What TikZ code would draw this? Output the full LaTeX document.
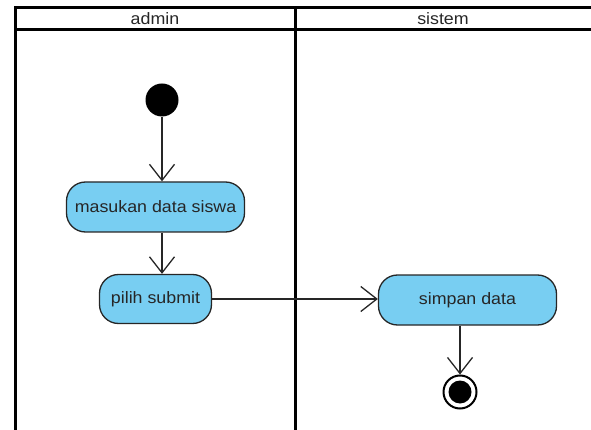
\documentclass[tikz,border=0pt]{standalone}
\usepackage{fontspec}
\setmainfont[FakeStretch=1.08]{Liberation Sans}
\usetikzlibrary{arrows.meta}
\definecolor{actfill}{RGB}{120,206,242}
\begin{document}
\begin{tikzpicture}[x=1pt,y=-1pt,
  act/.style={draw=black!85, line width=1.3pt, fill=actfill, rounded corners=19pt,
    inner sep=0pt, font=\fontsize{16.5}{18}\selectfont, text=black!85},
  flow/.style={draw=black!85, line width=1.3pt, -{Straight Barb[length=16pt,width=25pt,line width=1.3pt]}},
  lane/.style={line width=3pt, line cap=rect},
  hdr/.style={font=\fontsize{16.5}{18}\selectfont, text=black!85}]
\useasboundingbox (0,0) rectangle (591,430);
\begin{scope}
\clip (0,0) rectangle (591,430);
\draw[lane] (15,8) -- (600,8);
\draw[lane] (15,30) -- (600,30);
\draw[lane] (15,8) -- (15,440);
\draw[lane] (295,8) -- (295,440);
\end{scope}
\node[hdr] (ha) at (155,19) {admin};
\node[hdr] (hs) at (443,19) {sistem};
% start
\node[circle, fill=black, minimum size=33pt, inner sep=0pt] (start) at (162,100) {};
% actions
\node[act, minimum width=178pt, minimum height=50pt] (a1) at (155.5,207) {masukan data siswa};
\node[act, minimum width=112pt, minimum height=49pt] (a2) at (155.5,299) {pilih submit};
\node[act, minimum width=178pt, minimum height=50pt] (a3) at (467.5,300) {simpan data};
% end
\node[circle, draw=black, line width=2pt, fill=white, minimum size=33pt, inner sep=0pt] (endo) at (460,392) {};
\node[circle, fill=black, minimum size=23pt, inner sep=0pt] (endi) at (endo) {};
% flows
\draw[flow] (start.south) -- (start.south |- a1.north);
\draw[flow] (start.south |- a1.south) -- (start.south |- a2.north);
\draw[flow] (a2.east) -- (a3.west |- a2.east);
\draw[flow] (endo.north |- a3.south) -- (endo.north);
\end{tikzpicture}
\end{document}
